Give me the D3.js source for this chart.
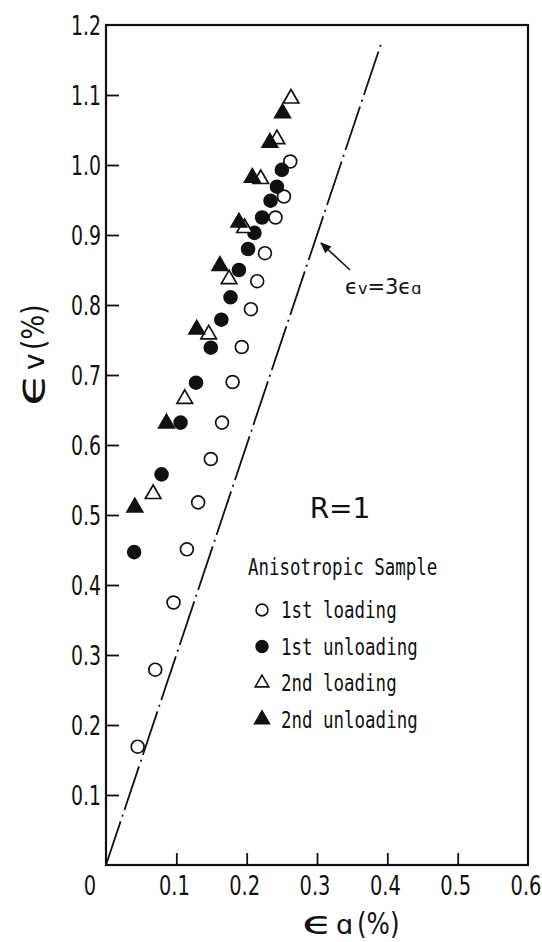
<!DOCTYPE html>
<html>
<head>
<meta charset="utf-8">
<script src="https://cdnjs.cloudflare.com/ajax/libs/d3/7.8.5/d3.min.js"></script>
<style>
body { margin: 0; background: #fff; }
text { fill: #111; }
</style>
</head>
<body>
<script>
var width = 542;
var height = 942;

// axis ticks
var xTicks = [0.1, 0.2, 0.3, 0.4, 0.5, 0.6];
var yTicks = [0.1, 0.2, 0.3, 0.4, 0.5, 0.6, 0.7, 0.8, 0.9, 1.0, 1.1, 1.2];

// 1st loading (open circles)
var load1Ea = [0.045, 0.070, 0.096, 0.115, 0.131, 0.149, 0.165, 0.180, 0.193, 0.206, 0.215, 0.226, 0.241, 0.253, 0.262];
var load1Ev = [0.169, 0.279, 0.375, 0.451, 0.518, 0.580, 0.632, 0.690, 0.740, 0.794, 0.834, 0.874, 0.925, 0.955, 1.005];

// 1st unloading (filled circles)
var unload1Ea = [0.040, 0.079, 0.106, 0.128, 0.149, 0.164, 0.177, 0.189, 0.202, 0.211, 0.222, 0.234, 0.243, 0.250];
var unload1Ev = [0.447, 0.558, 0.632, 0.689, 0.739, 0.779, 0.811, 0.850, 0.880, 0.903, 0.925, 0.949, 0.969, 0.993];

// 2nd loading (open triangles)
var load2Ea = [0.067, 0.112, 0.146, 0.175, 0.197, 0.220, 0.243, 0.263];
var load2Ev = [0.530, 0.666, 0.758, 0.837, 0.910, 0.980, 1.037, 1.095];

// 2nd unloading (filled triangles)
var unload2Ea = [0.041, 0.086, 0.129, 0.162, 0.189, 0.208, 0.233, 0.251];
var unload2Ev = [0.511, 0.631, 0.765, 0.856, 0.918, 0.982, 1.032, 1.074];

// reference line ev = 3 ea
var lineEa = [0, 0.391];

var legendLabels = ["1st loading", "1st unloading", "2nd loading", "2nd unloading"];

var frame = d3.select("body").append("svg")
            .attr("width", width)
            .attr("height", height);

var x = d3.scaleLinear().domain([0, 0.6]).range([106, 528]);
var y = d3.scaleLinear().domain([0, 1.2]).range([865, 25]);

//squeeze/stretch a text sideways, optionally in a parent group
function scaledText(parent, px, py, str, size, sx, anchor, family) {
    var g = parent.append("g")
        .attr("transform", "translate(" + px + "," + py + ") scale(" + sx + ",1)");
    return g.append("text")
        .attr("text-anchor", anchor)
        .style("font-family", family || "DejaVu Sans")
        .style("font-size", size + "px")
        .text(str);
}

//frame box
frame.append("rect")
    .attr("x", x(0)).attr("y", y(1.2))
    .attr("width", x(0.6) - x(0)).attr("height", y(0) - y(1.2))
    .attr("fill", "none").attr("stroke", "#111").attr("stroke-width", 2.2);

//axes with inward ticks, labels drawn separately
frame.append("g")
    .attr("transform", "translate(0," + y(0) + ")")
    .call(d3.axisTop(x).tickValues(xTicks.slice(0, 5)).tickSize(12).tickFormat(""))
    .call(function(g) { g.select(".domain").remove(); })
    .selectAll("line").attr("stroke", "#111").attr("stroke-width", 1.8);

frame.append("g")
    .attr("transform", "translate(" + x(0) + ",0)")
    .call(d3.axisRight(y).tickValues(yTicks.slice(0, 11)).tickSize(13).tickFormat(""))
    .call(function(g) { g.select(".domain").remove(); })
    .selectAll("line").attr("stroke", "#111").attr("stroke-width", 1.8);

//tick labels
xTicks.forEach(function(t) {
    scaledText(frame, x(t) - 2, y(0) + 30, t.toFixed(1), 27, 0.72, "middle");
});
scaledText(frame, x(0) - 16, y(0) + 30, "0", 27, 0.72, "middle");
yTicks.forEach(function(t) {
    scaledText(frame, x(0) - 5, y(t) + 10, t.toFixed(1), 27, 0.7, "end");
});

//axis titles: lunate epsilon, subscript letter, (%)
function axisTitle(g, sub, epsSize, epsSx, subSize, pctSize, subX, pctX) {
    scaledText(g, 0, 0, "ϵ", epsSize, epsSx, "start");
    scaledText(g, subX, 0, sub, subSize, 1, "start");
    scaledText(g, pctX, 0, "(%)", pctSize, 0.82, "start");
}
axisTitle(frame.append("g").attr("transform", "translate(302,934)"), "ɑ", 32, 1.6, 27, 30, 34, 55);
axisTitle(frame.append("g").attr("transform", "translate(44,406) rotate(-90)"), "v", 38, 1.45, 28, 32, 36, 56);

//ev = 3 ea line, dash-dot
var line = d3.line()
    .x(function(d) { return x(d); })
    .y(function(d) { return y(3 * d); });

frame.append("path")
    .datum(lineEa)
    .attr("d", line)
    .attr("fill", "none")
    .attr("stroke", "#111")
    .attr("stroke-width", 1.8)
    .attr("stroke-dasharray", "46,5,2,5");

//line label with arrow
frame.append("defs").append("marker")
    .attr("id", "arr")
    .attr("viewBox", "0 0 10 10")
    .attr("refX", 9).attr("refY", 5)
    .attr("markerWidth", 7).attr("markerHeight", 7)
    .attr("orient", "auto")
    .append("path").attr("d", "M0,1L10,5L0,9z").attr("fill", "#111");

frame.append("line")
    .attr("x1", 350).attr("y1", 270)
    .attr("x2", 321).attr("y2", 243)
    .attr("stroke", "#111").attr("stroke-width", 1.6)
    .attr("marker-end", "url(#arr)");

var lt = frame.append("text")
    .attr("x", 345).attr("y", 294)
    .style("font-family", "DejaVu Sans")
    .style("font-size", "21px");
lt.append("tspan").text("ϵ");
lt.append("tspan").style("font-size", "16px").text("v");
lt.append("tspan").text("=3ϵ");
lt.append("tspan").style("font-size", "16px").text("ɑ");

//R=1
frame.append("text")
    .attr("x", 340).attr("y", 518)
    .attr("text-anchor", "middle")
    .style("font-family", "DejaVu Sans")
    .style("font-size", "28px")
    .text("R=1");

//data markers
var circ = d3.symbol().type(d3.symbolCircle).size(130);
var tri = d3.symbol().type(d3.symbolTriangle).size(105);

function drawSeries(ea, ev, sym, filled) {
    frame.append("g").selectAll("path")
        .data(d3.zip(ea, ev))
        .enter().append("path")
        .attr("d", sym)
        .attr("transform", function(d) { return "translate(" + x(d[0]) + "," + y(d[1]) + ")"; })
        .attr("fill", filled ? "#111" : "#fff")
        .attr("stroke", "#111")
        .attr("stroke-width", 1.7);
}

drawSeries(load1Ea, load1Ev, circ, false);
drawSeries(unload1Ea, unload1Ev, circ, true);
drawSeries(load2Ea, load2Ev, tri, false);
drawSeries(unload2Ea, unload2Ev, tri, true);

//legend (monospace plotter lettering)
scaledText(frame, 248, 575, "Anisotropic Sample", 23, 0.76, "start", "DejaVu Sans Mono");

var legendSyms = [
    { sym: d3.symbol().type(d3.symbolCircle).size(110), filled: false },
    { sym: d3.symbol().type(d3.symbolCircle).size(110), filled: true },
    { sym: d3.symbol().type(d3.symbolTriangle).size(80), filled: false },
    { sym: d3.symbol().type(d3.symbolTriangle).size(95), filled: true }
];

legendLabels.forEach(function(lab, i) {
    var cy = 610 + i * 36.5;
    frame.append("path")
        .attr("d", legendSyms[i].sym)
        .attr("transform", "translate(262," + cy + ")")
        .attr("fill", legendSyms[i].filled ? "#111" : "#fff")
        .attr("stroke", "#111")
        .attr("stroke-width", 1.6);
    scaledText(frame, 281, cy + 8, lab, 23, 0.76, "start", "DejaVu Sans Mono");
});

</script>
</body>
</html>
